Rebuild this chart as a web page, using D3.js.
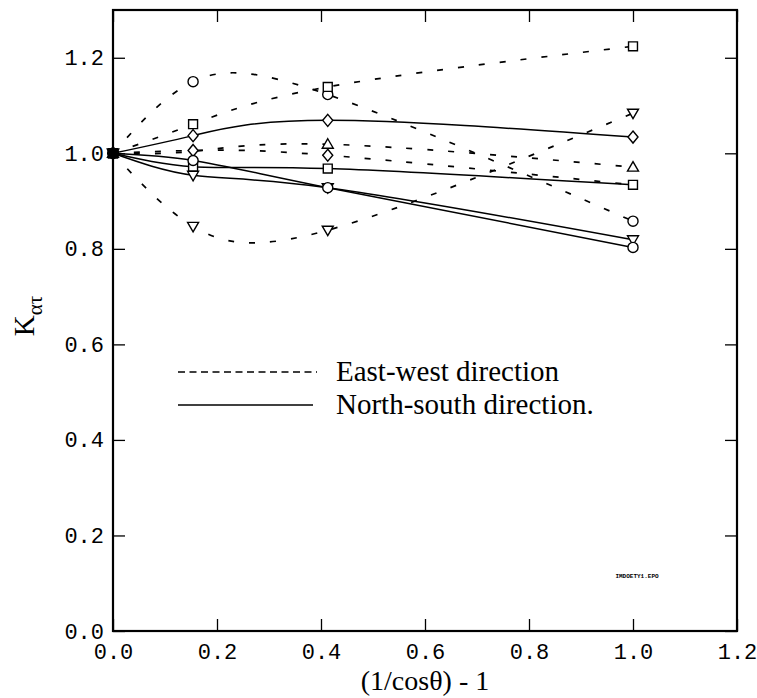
<!DOCTYPE html>
<html>
<head>
<meta charset="utf-8">
<script src="https://cdn.jsdelivr.net/npm/d3@7"></script>
<style>
  html, body { margin: 0; padding: 0; background: #fff; }
  svg { display: block; }
</style>
</head>
<body>
<svg id="chart" width="757" height="698"></svg>
<script>
// ---- data ----
const xValues = [0, 0.154, 0.413, 1.0];

const ewCircle   = [1.0, 1.150, 1.123, 0.858];
const ewSquare   = [1.0, 1.061, 1.139, 1.224];
const ewDiamond  = [1.0, 1.006, 0.996, 0.934];
const ewTriUp    = [1.0, 1.004, 1.019, 0.971];
const ewTriDown  = [1.0, 0.847, 0.839, 1.084];

const nsDiamond  = [1.0, 1.037, 1.069, 1.034];
const nsSquare   = [1.0, 0.972, 0.968, 0.934];
const nsTriDown  = [1.0, 0.954, 0.928, 0.819];
const nsCircle   = [1.0, 0.985, 0.928, 0.803];

// which points show a visible marker (others are hidden behind neighbours)
const ewDiamondMarks = [true, true, true, false];
const ewTriUpMarks   = [true, false, true, true];

const xTicks = [0, 0.2, 0.4, 0.6, 0.8, 1.0, 1.2];
const yTicks = [0, 0.2, 0.4, 0.6, 0.8, 1.0, 1.2];

const legendLabels = ["East-west direction", "North-south direction."];
const xTitle = "(1/cos\u03b8) - 1";
const fileTag = "IMDOETY1.EPO";

const series = [
  {vals: ewCircle,  sym: "circle",  dashed: true},
  {vals: ewSquare,  sym: "square",  dashed: true},
  {vals: ewDiamond, sym: "diamond", dashed: true, marks: ewDiamondMarks},
  {vals: ewTriUp,   sym: "triup",   dashed: true, marks: ewTriUpMarks},
  {vals: ewTriDown, sym: "tridown", dashed: true},
  {vals: nsDiamond, sym: "diamond", dashed: false},
  {vals: nsSquare,  sym: "square",  dashed: false},
  {vals: nsTriDown, sym: "tridown", dashed: false},
  {vals: nsCircle,  sym: "circle",  dashed: false}
];

// ---- layout ----
const svg = d3.select("#chart");
const L = 113, R = 737, T = 10, B = 631;
const x = d3.scaleLinear().domain([0, 1.2]).range([L, R]);
const y = d3.scaleLinear().domain([0, 1.3]).range([B, T]);

const monoFont = "'Liberation Mono', 'Courier New', monospace";
const serifFont = "'Liberation Serif', 'Times New Roman', serif";

// axes with inward ticks
const fmt = d3.format(".1f");
const gB = svg.append("g").attr("transform", `translate(0,${B})`)
  .call(d3.axisBottom(x).tickValues(xTicks).tickFormat(fmt).tickSizeInner(-12).tickSizeOuter(0).tickPadding(12));
const gL = svg.append("g").attr("transform", `translate(${L},0)`)
  .call(d3.axisLeft(y).tickValues(yTicks).tickFormat(fmt).tickSizeInner(-12).tickSizeOuter(0).tickPadding(9));
const gT = svg.append("g").attr("transform", `translate(0,${T})`)
  .call(d3.axisTop(x).tickValues(xTicks).tickFormat("").tickSizeInner(-12).tickSizeOuter(0));
const gR = svg.append("g").attr("transform", `translate(${R},0)`)
  .call(d3.axisRight(y).tickValues(yTicks).tickFormat("").tickSizeInner(-12).tickSizeOuter(0));

[gB, gL, gT, gR].forEach(g => {
  g.select(".domain").remove();
  g.selectAll(".tick line").attr("stroke", "#000").attr("stroke-width", 1.3);
  g.selectAll(".tick text").attr("fill", "#000").style("font-family", monoFont).style("font-size", "22px");
});

// frame
svg.append("rect").attr("x", L).attr("y", T).attr("width", R - L).attr("height", B - T)
  .attr("fill", "none").attr("stroke", "#000").attr("stroke-width", 2.2);

// lines
const line = d3.line().x((d, i) => x(xValues[i])).y(d => y(d)).curve(d3.curveNatural);
series.forEach(s => {
  svg.append("path").datum(s.vals).attr("d", line)
    .attr("fill", "none").attr("stroke", "#000")
    .attr("stroke-width", s.dashed ? 1.7 : 1.5)
    .attr("stroke-dasharray", s.dashed ? "6,15" : null);
});

// markers
const symPath = {
  circle: d3.symbol(d3.symbolCircle, 80)(),
  square: d3.symbol(d3.symbolSquare, 80)(),
  diamond: "M0,-6L5,0L0,6L-5,0Z",
  triup: "M0,-5.5L5.5,4L-5.5,4Z",
  tridown: "M0,5.5L5.5,-4L-5.5,-4Z"
};
series.forEach(s => {
  s.vals.forEach((v, i) => {
    if (s.marks && !s.marks[i]) return;
    svg.append("path").attr("d", symPath[s.sym])
      .attr("transform", `translate(${x(xValues[i])},${y(v)})`)
      .attr("fill", i === 0 ? "#000" : "#fff").attr("stroke", "#000").attr("stroke-width", 1.4);
  });
});

// legend
const lg = svg.append("g");
legendLabels.forEach((lab, i) => {
  const ly = 372 + i * 33;
  lg.append("line").attr("x1", 178).attr("x2", i === 0 ? 317 : 313).attr("y1", ly).attr("y2", ly)
    .attr("stroke", "#000").attr("stroke-width", 1.4)
    .attr("stroke-dasharray", i === 0 ? "7,4.5" : null);
  lg.append("text").attr("x", 336).attr("y", ly + 9).text(lab)
    .style("font-family", serifFont).style("font-size", "29px").attr("fill", "#000");
});

// axis titles
svg.append("text").attr("x", (L + R) / 2).attr("y", 690).attr("text-anchor", "middle")
  .style("font-family", serifFont).style("font-size", "28px").text(xTitle);

const yt = svg.append("text").attr("transform", "translate(34,316) rotate(-90)")
  .attr("text-anchor", "middle").style("font-family", serifFont).style("font-size", "29px");
yt.append("tspan").text("K");
yt.append("tspan").attr("dy", 8).style("font-size", "21px").text("\u03b1\u03c4");

// file tag
svg.append("text").attr("x", 637).attr("y", 578).attr("text-anchor", "middle")
  .style("font-family", monoFont).style("font-size", "6px").style("font-weight", "bold").text(fileTag);
</script>
</body>
</html>
